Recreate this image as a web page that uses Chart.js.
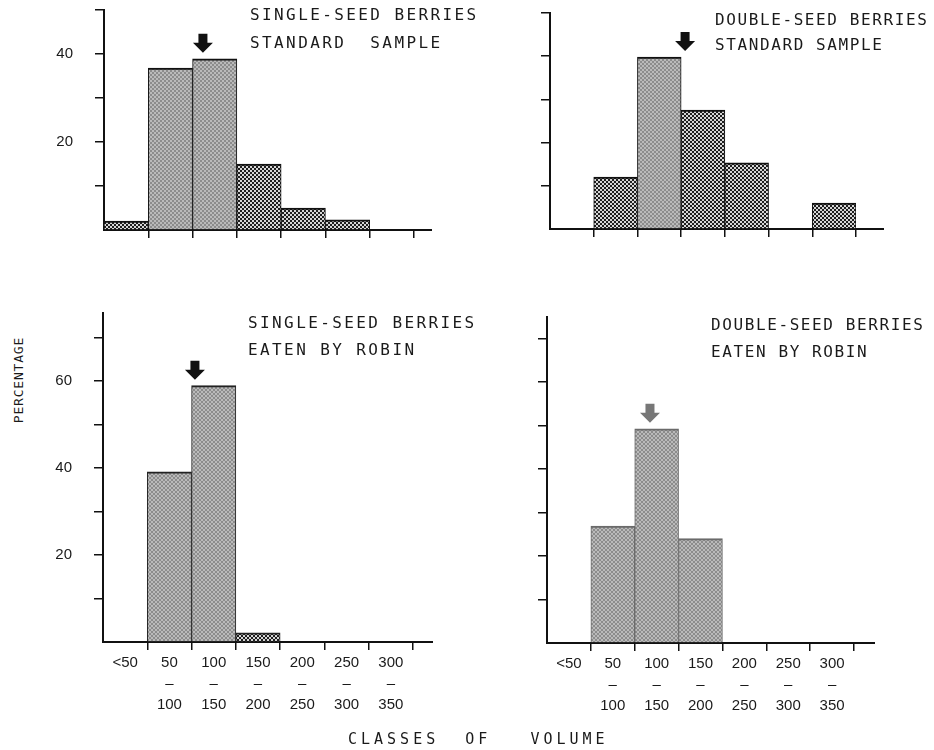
<!DOCTYPE html>
<html><head><meta charset="utf-8">
<script src="https://cdn.jsdelivr.net/npm/chart.js@4.4.1/dist/chart.umd.min.js"></script>
<style>
html,body{margin:0;padding:0;background:#fff;width:934px;height:750px;overflow:hidden;position:relative;}
canvas{position:absolute;display:block;}
.t{position:absolute;font-family:"DejaVu Sans Mono",monospace;color:#1a1a1a;white-space:pre;line-height:1;}
</style></head><body>
<canvas id="c0"></canvas><canvas id="c1"></canvas><canvas id="c2"></canvas><canvas id="c3"></canvas>

<div class="t" style="left:250px;top:7px;font-size:16px;letter-spacing:2.4px">SINGLE-SEED BERRIES</div>
<div class="t" style="left:250px;top:35px;font-size:16px;letter-spacing:2.4px">STANDARD  SAMPLE</div>
<div class="t" style="left:715px;top:12px;font-size:16px;letter-spacing:1.6px">DOUBLE-SEED BERRIES</div>
<div class="t" style="left:715px;top:37px;font-size:16px;letter-spacing:1.6px">STANDARD SAMPLE</div>
<div class="t" style="left:248px;top:315px;font-size:16px;letter-spacing:2.4px">SINGLE-SEED BERRIES</div>
<div class="t" style="left:248px;top:342px;font-size:16px;letter-spacing:2.4px">EATEN BY ROBIN</div>
<div class="t" style="left:711px;top:317px;font-size:16px;letter-spacing:1.6px">DOUBLE-SEED BERRIES</div>
<div class="t" style="left:711px;top:344px;font-size:16px;letter-spacing:1.6px">EATEN BY ROBIN</div>
<div class="t" style="left:18px;top:380px;font-size:13px;letter-spacing:0.8px;transform:translate(-50%,-50%) rotate(-90deg)">PERCENTAGE</div>
<div class="t" style="left:348px;top:732px;font-size:15px;letter-spacing:4px">CLASSES  OF   VOLUME</div>

<script>
// ---- data ----
const classLow  = ['<50', '50', '100', '150', '200', '250', '300'];
const classHigh = ['',    '100', '150', '200', '250', '300', '350'];
const classWidth = 50;
const singleStandard = [2, 36.8, 38.9, 15, 5, 2.3, 0];
const doubleStandard = [0, 12, 39.8, 27.5, 15.3, 0, 6];
const singleRobin    = [0, 39.1, 58.9, 2.1, 0, 0, 0];
const doubleRobin    = [0, 26.9, 49.3, 24, 0, 0, 0];
const meanVolumes    = [111.7, 154.5, 103.8, 117.4];
const yLabelValues   = [20, 40, 60];

const categories = classLow.map((lo, i) => classHigh[i] ? [lo, '\u2013', classHigh[i]] : [lo]);

// ---- styles ----
function makePattern(bg, fg) {
  const c = document.createElement('canvas');
  c.width = 4; c.height = 4;
  const g = c.getContext('2d');
  g.fillStyle = bg; g.fillRect(0, 0, 4, 4);
  g.fillStyle = fg; g.fillRect(0, 0, 2, 2); g.fillRect(2, 2, 2, 2);
  return g.createPattern(c, 'repeat');
}
const DARK = makePattern('#d6d6d6', '#1e1e1e');
const GREY = makePattern('#8c8c8c', '#bababa');

const panels = [
  {id:'c0', data:singleStandard, mean:meanVolumes[0], L:104, T:10, W:310, H:220, XH:40, max:50, showY:true, showX:false,
   fills:[DARK, GREY, GREY, DARK, DARK, DARK, DARK], border:'#111', arrow:'#111', ext:18},
  {id:'c1', data:doubleStandard, mean:meanVolumes[1], L:550, T:13, W:306, H:216, XH:40, max:50, showY:false, showX:false,
   fills:[DARK, DARK, GREY, DARK, DARK, DARK, DARK], border:'#111', arrow:'#111', ext:28},
  {id:'c2', data:singleRobin, mean:meanVolumes[2], L:103, T:313, W:310, H:329, XH:105, max:75.6, showY:true, showX:true,
   fills:[DARK, GREY, GREY, DARK, DARK, DARK, DARK], border:'#222', arrow:'#111', ext:20},
  {id:'c3', data:doubleRobin, mean:meanVolumes[3], L:547, T:317, W:307, H:326, XH:105, max:75, showY:false, showX:true,
   fills:[GREY, GREY, GREY, GREY, GREY, GREY, GREY], border:'#6a6a6a', arrow:'#777', ext:21}
];

const YW = 60, PT = 40, PR = 30;

const axisExtend = {
  id: 'axisExtend',
  afterDraw(chart, args, o) {
    const ctx = chart.ctx, xs = chart.scales.x;
    const y = Math.round(xs.top);
    ctx.save();
    ctx.strokeStyle = '#111'; ctx.lineWidth = 2;
    ctx.beginPath(); ctx.moveTo(xs.right - 1, y); ctx.lineTo(xs.right + o.length, y); ctx.stroke();
    ctx.restore();
  }
};
const meanArrow = {
  id: 'meanArrow',
  afterDatasetsDraw(chart, args, o) {
    const ctx = chart.ctx, xs = chart.scales.x, ys = chart.scales.y;
    const vals = chart.data.datasets[0].data, n = vals.length;
    const x = xs.getPixelForValue(o.value / classWidth - 0.5);
    const bw = (xs.right - xs.left) / n;
    const i0 = Math.max(0, Math.floor((x - 10 - xs.left) / bw));
    const i1 = Math.min(n - 1, Math.floor((x + 10 - xs.left) / bw));
    let m = 0; for (let i = i0; i <= i1; i++) m = Math.max(m, vals[i]);
    const tip = ys.getPixelForValue(m) - 6;
    ctx.save();
    ctx.fillStyle = o.color;
    ctx.beginPath();
    ctx.moveTo(x, tip);
    ctx.lineTo(x + 10, tip - 10);
    ctx.lineTo(x + 4.5, tip - 10);
    ctx.lineTo(x + 4.5, tip - 19);
    ctx.lineTo(x - 4.5, tip - 19);
    ctx.lineTo(x - 4.5, tip - 10);
    ctx.lineTo(x - 10, tip - 10);
    ctx.closePath(); ctx.fill();
    ctx.restore();
  }
};

panels.forEach(p => {
  const cv = document.getElementById(p.id);
  let cw = YW + p.W + PR, ch = PT + p.H + p.XH;
  cv.width = cw; cv.height = ch;
  cv.style.width = cw + 'px'; cv.style.height = ch + 'px';
  const chart = new Chart(cv, {
    type: 'bar',
    data: {
      labels: categories,
      datasets: [{
        data: p.data,
        backgroundColor: p.fills,
        borderColor: p.border,
        borderWidth: {top: 2, left: 1, right: 1, bottom: 0},
        borderSkipped: 'start',
        barPercentage: 1, categoryPercentage: 1
      }]
    },
    options: {
      responsive: false, maintainAspectRatio: false, animation: false, devicePixelRatio: 1,
      layout: {padding: {top: PT, right: PR, left: 0, bottom: 0}},
      plugins: {legend: {display: false}, tooltip: {enabled: false},
        axisExtend: {length: p.ext}, meanArrow: {value: p.mean, color: p.arrow}},
      scales: {
        x: {
          offset: true,
          grid: {offset: true, drawOnChartArea: false, drawTicks: true, tickLength: 8, lineWidth: 1.5,
                 color: c => c.index === 0 ? 'rgba(0,0,0,0)' : '#111'},
          border: {display: true, color: '#111', width: 2},
          ticks: {display: true, autoSkip: false, maxRotation: 0, minRotation: 0, padding: 2,
                  color: '#1a1a1a', font: {family: 'Liberation Sans', size: 15, lineHeight: 1.4},
                  callback: function(v, i) { return p.showX ? this.getLabelForValue(v) : ''; }},
          afterFit: s => { s.height = p.XH; }
        },
        y: {
          min: 0, max: p.max,
          grid: {drawOnChartArea: false, drawTicks: true, tickLength: 9, lineWidth: 1.5,
                 color: c => c.index === 0 ? 'rgba(0,0,0,0)' : '#111'},
          border: {display: true, color: '#111', width: 2},
          ticks: {stepSize: 10, padding: 22, color: '#1a1a1a',
                  font: {family: 'Liberation Sans', size: 15},
                  callback: v => (p.showY && yLabelValues.includes(v)) ? String(v) : ''},
          afterBuildTicks: s => { s.ticks = s.ticks.filter(t => Math.abs(t.value / 10 - Math.round(t.value / 10)) < 1e-6); },
          afterFit: s => { s.width = YW; }
        }
      }
    },
    plugins: [axisExtend, meanArrow]
  });
  // fit the plot area onto the reference geometry
  for (let k = 0; k < 3; k++) {
    const ca = chart.chartArea;
    const dw = p.W - (ca.right - ca.left), dh = p.H - (ca.bottom - ca.top);
    if (Math.abs(dw) < 0.5 && Math.abs(dh) < 0.5) break;
    cw = Math.round(cw + dw); ch = Math.round(ch + dh);
    chart.resize(cw, ch);
  }
  const ca = chart.chartArea;
  cv.style.left = Math.round(p.L - ca.left) + 'px';
  cv.style.top = Math.round(p.T - ca.top) + 'px';
});
</script>
</body></html>
